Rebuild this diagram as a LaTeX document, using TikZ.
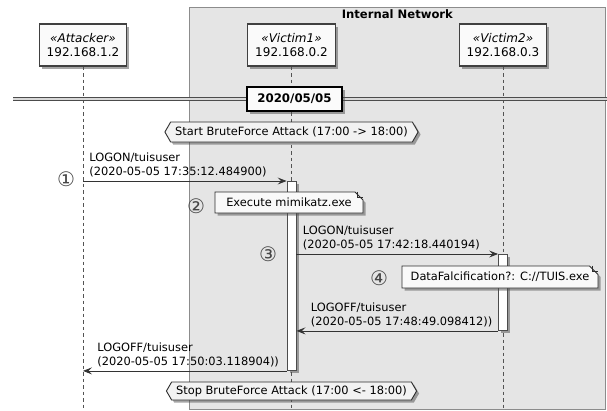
\documentclass[tikz,border=0pt]{standalone}
\usepackage{fontspec}
\setmainfont{DejaVu Sans}
\usetikzlibrary{arrows.meta,positioning,shadows,shapes.misc,shapes.symbols}

\begin{document}
\begin{tikzpicture}[x=1pt, y=-1pt,
  every node/.style={font=\fontsize{11.4}{14.5}\selectfont, inner sep=0pt},
  dshadow/.style={drop shadow={shadow xshift=2.5pt, shadow yshift=-2.5pt, opacity=0.5, fill=black!70}},
  grp/.style={draw=gray!90, fill=gray!20, line width=0.8pt},
  grptitle/.style={font=\bfseries\fontsize{11.6}{14}\selectfont},
  peer/.style={draw=black!75, line width=1.2pt, fill=gray!4, inner xsep=7.5pt, minimum height=42pt,
    align=center, font=\fontsize{12}{14}\selectfont, dshadow},
  lifeline/.style={draw=gray!65!black, line width=0.8pt, dash pattern=on 3.5pt off 3pt},
  sepline/.style={draw=gray!60!black, line width=0.8pt, double=gray!30, double distance=1.8pt},
  daybox/.style={draw=black, line width=1.5pt, fill=gray!3, minimum width=95pt, minimum height=24pt,
    font=\bfseries\fontsize{11.8}{14}\selectfont, dshadow},
  hexnote/.style={shape=signal, signal to=west and east, signal pointer angle=120, draw=gray!35!black,
    line width=0.9pt, fill=gray!10, inner xsep=4.5pt, minimum height=20pt, dshadow},
  actbar/.style={draw=black!70, line width=0.9pt, fill=white, minimum width=9pt, anchor=north, dshadow},
  memo/.style={shape=chamfered rectangle, chamfered rectangle corners=north east, chamfered rectangle angle=45,
    chamfered rectangle xsep=6pt, draw=gray!35!black, line width=0.8pt, fill=gray!5, dshadow},
  memofold/.style={draw=gray!35!black, line width=0.8pt},
  msg/.style={draw=black!80, line width=0.8pt, -{Stealth[length=9pt, width=7pt, inset=3.5pt]}},
  msglabel/.style={anchor=south west, align=left, xshift=6pt, yshift=3.5pt},
  msgback/.style={msglabel, xshift=8pt},
  stepnum/.style={font=\fontsize{20}{20}\selectfont, text=gray!55!black}]
\useasboundingbox (0,0) rectangle (607,410);
\coordinate (floor) at (0,410);

\node[grp, anchor=north west, minimum width=416pt, minimum height=402pt] (inet) at (189,7) {};
\node[grptitle, below=2.5pt of inet.north] (inettitle) {Internal Network};

\foreach \id/\role/\ip/\xx in {atk/Attacker/192.168.1.2/83, vica/Victim1/192.168.0.2/291.5, vicb/Victim2/192.168.0.3/503} {
  \node[peer] (\id) at (\xx,45) {\textit{«\role»}\\\ip};
  \draw[lifeline] (\id.south) -- (\id.south |- floor);
}

\coordinate (sepw) at (13,99);
\coordinate (sepe) at (607,99);
\draw[sepline] (sepw) -- (sepe);
\node[daybox] (day) at (294.5,99) {2020/05/05};

\node[hexnote] (bfstart) at (291.5,132) {Start BruteForce Attack (17:00 -> 18:00)};
\node[hexnote, minimum height=18pt] (bfstop) at (291.5,391) {Stop BruteForce Attack (17:00 <- 18:00)};

\node[actbar, minimum height=189pt] (acta) at (vica.south |- 0,181) {};
\node[actbar, minimum height=76pt] (actb) at (vicb.south |- 0,254) {};

\draw[msg] (atk.south |- acta.north) -- (acta.north west)
  node[msglabel, pos=0] {LOGON/tuisuser\\(2020-05-05 17:35:12.484900)};
\draw[msg] (acta.east |- actb.north) -- (actb.north west)
  node[msglabel, pos=0] {LOGON/tuisuser\\(2020-05-05 17:42:18.440194)};
\draw[msg] (actb.south west) -- (acta.east |- actb.south)
  node[msgback, pos=1] {LOGOFF/tuisuser\\(2020-05-05 17:48:49.098412))};
\draw[msg] (acta.south west) -- (atk.south |- acta.south)
  node[msgback, pos=1] {LOGOFF/tuisuser\\(2020-05-05 17:50:03.118904))};

\node[memo, minimum width=148pt, minimum height=21pt] (notea) at (289,202.5) {Execute mimikatz.exe};
\node[memo, minimum width=196pt, minimum height=22pt] (noteb) at (500,277) {DataFalcification?: C://TUIS.exe};
\foreach \nm in {notea,noteb} {
  \coordinate (\nm tip) at (\nm.north -| \nm.east);
  \draw[memofold] ([xshift=-6pt]\nm tip) |- ([yshift=-6pt]\nm tip);
}

\node[stepnum] (stepa) at (66,179) {①};
\node[stepnum] (stepb) at (196,206) {②};
\node[stepnum] (stepc) at (268,254) {③};
\node[stepnum] (stepd) at (379,278) {④};
\end{tikzpicture}
\end{document}
